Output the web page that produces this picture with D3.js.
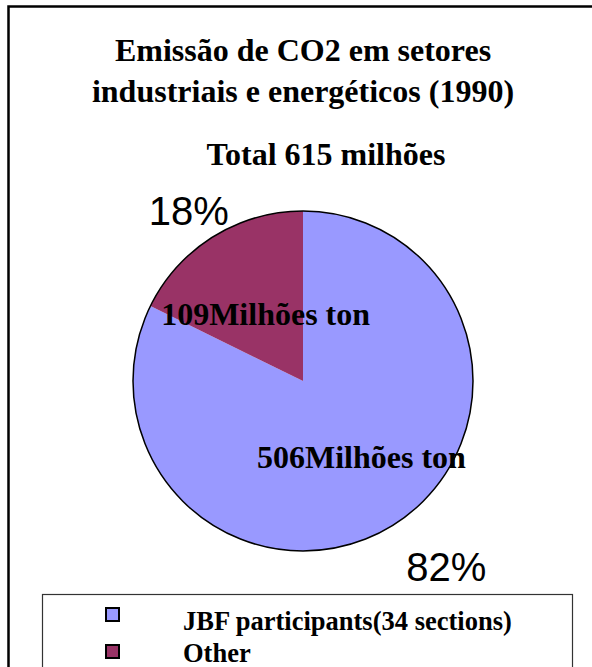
<!DOCTYPE html>
<html>
<head>
<meta charset="utf-8">
<script src="https://cdn.jsdelivr.net/npm/d3@7"></script>
<style>
  body { margin: 0; background: #fff; }
  svg { display: block; }
</style>
</head>
<body>
<div id="chart"></div>
<script>
const categories = ['JBF participants(34 sections)', 'Other'];
const values = [506, 109];
const percentLabels = ['82%', '18%'];
const valueLabels = ['506Milhões ton', '109Milhões ton'];
const titleLines = ['Emissão de CO2 em setores', 'industriais e energéticos (1990)'];
const subtitle = 'Total 615 milhões';
const colors = ['#9999FF', '#993366'];

const width = 592, height = 667;
const cx = 303, cy = 381, radius = 170;

const svg = d3.select('#chart').append('svg')
    .attr('width', width)
    .attr('height', height);

// outer frame (top + left only visible)
svg.append('path')
    .attr('d', `M8.5,${height + 5} V6.5 H${width + 5}`)
    .attr('fill', 'none')
    .attr('stroke', '#000')
    .attr('stroke-width', 2.5);

const serif = '"Liberation Serif", "Times New Roman", serif';
const sans = '"Liberation Sans", Arial, sans-serif';

svg.selectAll('.title')
    .data(titleLines)
    .join('text')
    .attr('class', 'title')
    .attr('x', 303)
    .attr('y', (d, i) => 61 + i * 41)
    .attr('text-anchor', 'middle')
    .style('font-family', serif)
    .style('font-weight', 'bold')
    .style('font-size', '32px')
    .text(d => d);

svg.append('text')
    .attr('x', 326)
    .attr('y', 165)
    .attr('text-anchor', 'middle')
    .style('font-family', serif)
    .style('font-weight', 'bold')
    .style('font-size', '32px')
    .text(subtitle);

const pie = d3.pie().sort(null).value(d => d);
const arcs = pie(values);
const arc = d3.arc().innerRadius(0).outerRadius(radius);

const g = svg.append('g').attr('transform', `translate(${cx},${cy})`);

g.selectAll('path.slice')
    .data(arcs)
    .join('path')
    .attr('class', 'slice')
    .attr('d', arc)
    .attr('fill', (d, i) => colors[i]);

g.append('circle')
    .attr('r', radius)
    .attr('fill', 'none')
    .attr('stroke', '#000')
    .attr('stroke-width', 1.5);

// label placement: offsets from the outer/inner arc points of each slice
const outerArc = d3.arc().innerRadius(radius * 1.15).outerRadius(radius * 1.15);
const pctOffset = [[40, 34], [-11, 10]];
const innerArc = d3.arc().innerRadius(radius * 0.55).outerRadius(radius * 0.55);
const valOffset = [[9, 8], [12, 23]];

g.selectAll('text.pct')
    .data(arcs)
    .join('text')
    .attr('class', 'pct')
    .attr('x', (d, i) => outerArc.centroid(d)[0] + pctOffset[i][0])
    .attr('y', (d, i) => outerArc.centroid(d)[1] + pctOffset[i][1])
    .attr('text-anchor', 'middle')
    .style('font-family', sans)
    .style('font-size', '40px')
    .text((d, i) => percentLabels[i]);

g.selectAll('text.val')
    .data(arcs)
    .join('text')
    .attr('class', 'val')
    .attr('x', (d, i) => innerArc.centroid(d)[0] + valOffset[i][0])
    .attr('y', (d, i) => innerArc.centroid(d)[1] + valOffset[i][1])
    .attr('text-anchor', 'middle')
    .style('font-family', serif)
    .style('font-weight', 'bold')
    .style('font-size', '32px')
    .text((d, i) => valueLabels[i]);

// legend
const legend = svg.append('g');
legend.append('rect')
    .attr('x', 42.5)
    .attr('y', 594.5)
    .attr('width', 530)
    .attr('height', 100)
    .attr('fill', '#fff')
    .attr('stroke', '#333')
    .attr('stroke-width', 1.2);

legend.selectAll('rect.swatch')
    .data(categories)
    .join('rect')
    .attr('class', 'swatch')
    .attr('x', 106)
    .attr('y', (d, i) => 608 + i * 37)
    .attr('width', 13)
    .attr('height', 13)
    .attr('fill', (d, i) => colors[i])
    .attr('stroke', '#000')
    .attr('stroke-width', 2);

legend.selectAll('text.label')
    .data(categories)
    .join('text')
    .attr('class', 'label')
    .attr('x', 183)
    .attr('y', (d, i) => 630 + i * 32)
    .style('font-family', serif)
    .style('font-weight', 'bold')
    .style('font-size', '26.5px')
    .text(d => d);
</script>
</body>
</html>
